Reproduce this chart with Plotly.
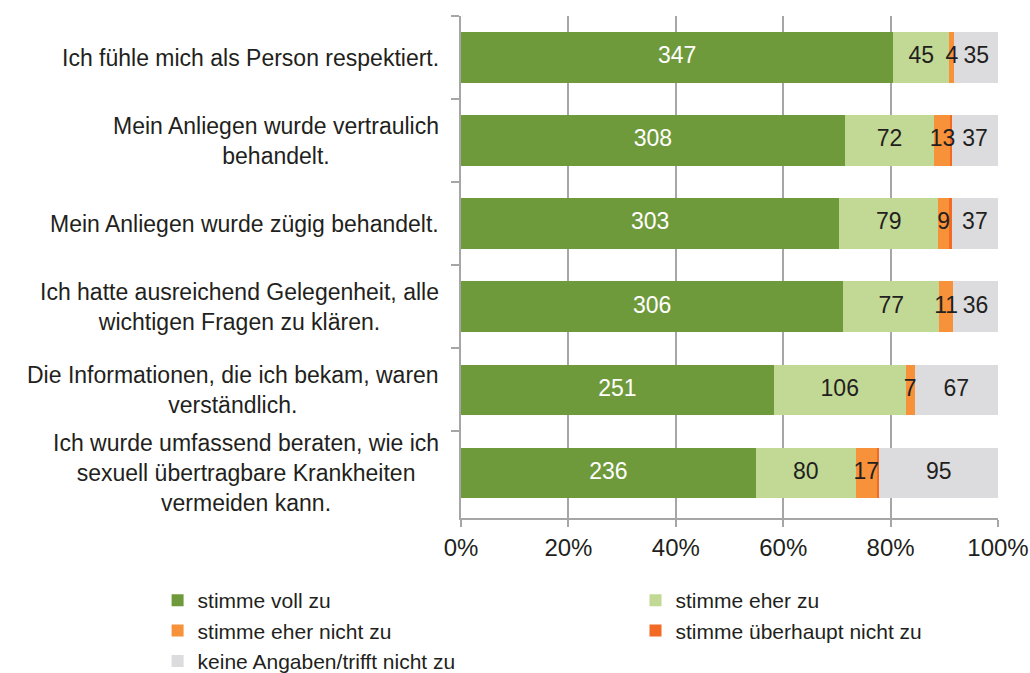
import plotly.graph_objects as go

# Survey statements (top to bottom)
statements = [
    "Ich fühle mich als Person respektiert.",
    "Mein Anliegen wurde vertraulich<br>behandelt.",
    "Mein Anliegen wurde zügig behandelt.",
    "Ich hatte ausreichend Gelegenheit, alle<br>wichtigen Fragen zu klären.",
    "Die Informationen, die ich bekam, waren<br>verständlich.",
    "Ich wurde umfassend beraten, wie ich<br>sexuell übertragbare Krankheiten<br>vermeiden kann.",
]

# Answer counts per category
voll_zu = [347, 308, 303, 306, 251, 236]
eher_zu = [45, 72, 79, 77, 106, 80]
eher_nicht_zu = [4, 13, 9, 11, 7, 17]
ueberhaupt_nicht_zu = [0, 1, 2, 0, 0, 2]
keine_angaben = [35, 37, 37, 36, 67, 95]

series = [
    ("stimme voll zu", voll_zu, "#6F9A3B", "white", True, "legend"),
    ("stimme eher zu", eher_zu, "#C2D995", "#231F20", True, "legend2"),
    ("stimme eher nicht zu", eher_nicht_zu, "#F7923A", "#231F20", True, "legend"),
    ("stimme überhaupt nicht zu", ueberhaupt_nicht_zu, "#F26A24", "#231F20", False, "legend2"),
    ("keine Angaben/trifft nicht zu", keine_angaben, "#DCDCDE", "#231F20", True, "legend"),
]

FONT = "Liberation Sans, Arial, sans-serif"
AXIS_GRAY = "#A6A6A6"
TXT = "#231F20"

totals = [sum(row) for row in zip(*[s[1] for s in series])]

fig = go.Figure()
for name, vals, color, txtcolor, labelled, leg in series:
    fig.add_trace(go.Bar(
        y=statements,
        x=vals,
        name=name,
        orientation="h",
        marker=dict(color=color, line=dict(width=0)),
        legend=leg,
        hoverinfo="skip",
    ))

# Value labels drawn above all segments, centred in each segment (percent scale)
cum = [0.0] * len(statements)
for name, vals, color, txtcolor, labelled, leg in series:
    share = [100.0 * v / t for v, t in zip(vals, totals)]
    mids = [c + s / 2 for c, s in zip(cum, share)]
    cum = [c + s for c, s in zip(cum, share)]
    if not labelled:
        continue
    fig.add_trace(go.Scatter(
        x=mids,
        y=statements,
        mode="text",
        text=[str(v) if v > 0 else "" for v in vals],
        textposition="middle center",
        textfont=dict(color=txtcolor, size=23, family=FONT),
        showlegend=False,
        hoverinfo="skip",
        cliponaxis=False,
    ))

# Statement labels: right-aligned block, lines centred within the block
for s in statements:
    fig.add_annotation(
        x=0, xref="paper", xshift=-20, xanchor="right",
        y=s, yref="y", yanchor="middle",
        text=s, align="center", showarrow=False,
        font=dict(size=23, family=FONT, color=TXT),
    )

legend_common = dict(
    orientation="v",
    traceorder="normal",
    xref="container",
    yref="container",
    yanchor="top",
    xanchor="left",
    font=dict(size=21, family=FONT, color=TXT),
    bgcolor="rgba(0,0,0,0)",
    tracegroupgap=0,
    itemclick=False,
    itemdoubleclick=False,
)

fig.update_layout(
    width=1030,
    height=673,
    margin=dict(l=461, r=32, t=16, b=155, autoexpand=False),
    barmode="stack",
    barnorm="percent",
    bargap=0.39,
    plot_bgcolor="white",
    paper_bgcolor="white",
    font=dict(family=FONT, color=TXT),
    legend=dict(x=0.153, y=0.138, **legend_common),
    legend2=dict(x=0.617, y=0.138, **legend_common),
    showlegend=True,
)

fig.update_xaxes(
    range=[0, 100],
    tick0=0,
    dtick=20,
    ticksuffix="%",
    showgrid=True,
    gridcolor=AXIS_GRAY,
    gridwidth=2,
    showline=True,
    linecolor=AXIS_GRAY,
    linewidth=2,
    ticks="outside",
    ticklen=7,
    tickwidth=2,
    tickcolor=AXIS_GRAY,
    tickfont=dict(size=24, family=FONT, color=TXT),
    zeroline=False,
    automargin=False,
)

fig.update_yaxes(
    type="category",
    autorange="reversed",
    showticklabels=False,
    tickson="boundaries",
    ticks="outside",
    ticklen=8,
    tickwidth=2,
    tickcolor=AXIS_GRAY,
    showline=True,
    linecolor=AXIS_GRAY,
    linewidth=2,
    showgrid=False,
    automargin=False,
)

fig.write_html("out.html")
